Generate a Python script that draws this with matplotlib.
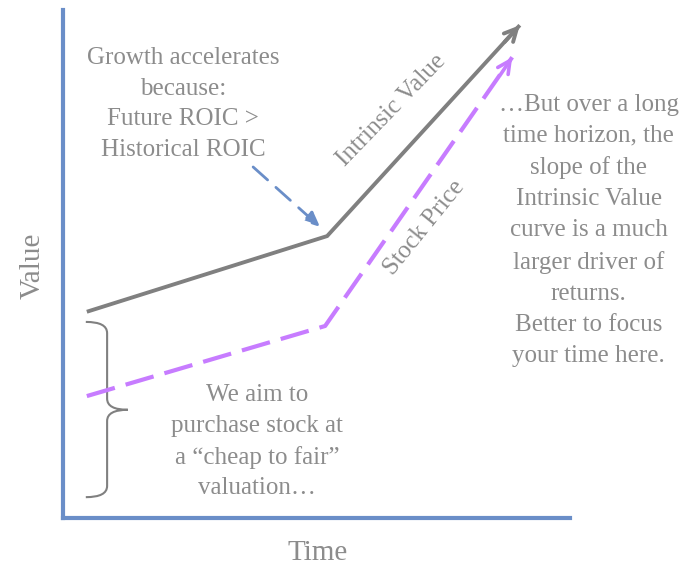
import matplotlib
matplotlib.use("Agg")
import matplotlib.pyplot as plt
from matplotlib.path import Path
from matplotlib.patches import PathPatch

# ---- data (conceptual units, 0-100 on each axis) ----
iv_time = [4.7, 52.1, 90.1]
iv_value = [40.6, 55.5, 97.0]
sp_time = [4.7, 51.7, 88.6]
sp_value = [24.0, 37.8, 90.7]
callout_time = [37.5, 50.7]
callout_value = [69.1, 57.3]
brace_time = [4.5, 8.7, 12.8]
brace_value = [38.6, 21.3, 4.1]

x_label = "Time"
y_label = "Value"
iv_label = "Intrinsic Value"
sp_label = "Stock Price"
growth_text = "Growth accelerates\nbecause:\nFuture ROIC >\nHistorical ROIC"
right_text = ("\u2026But over a long\ntime horizon, the\nslope of the\nIntrinsic Value\n"
              "curve is a much\nlarger driver of\nreturns.\nBetter to focus\nyour time here.")
bottom_text = "We aim to\npurchase stock at\na \u201ccheap to fair\u201d\nvaluation\u2026"

GRAY = "#808080"
PURPLE = "#c77cff"
BLUE = "#6a8ec8"
TXT = "#8c8c8c"
FONT = "Liberation Serif"
LS = 1.5

fig = plt.figure(figsize=(6.85, 5.66), dpi=100)
ax = fig.add_axes([63 / 685, 48 / 566, 507 / 685, 508 / 566])
ax.set_xlim(0, 100)
ax.set_ylim(0, 100)
for s in ["top", "right"]:
    ax.spines[s].set_visible(False)
for s in ["left", "bottom"]:
    ax.spines[s].set_color(BLUE)
    ax.spines[s].set_linewidth(3)
ax.set_xticks([])
ax.set_yticks([])
ax.patch.set_alpha(0)

# Intrinsic value line
ax.plot(iv_time, iv_value, color=GRAY, lw=2.8, solid_capstyle="butt",
        solid_joinstyle="miter", clip_on=False)
ax.annotate("", xy=(iv_time[-1], iv_value[-1]),
            xytext=(iv_time[-1] - 3, iv_value[-1] - 3.3),
            arrowprops=dict(arrowstyle="->,head_length=0.9,head_width=0.45",
                            color=GRAY, lw=2.8, shrinkA=0, shrinkB=0),
            annotation_clip=False)

# Stock price line (dashed)
ax.plot(sp_time, sp_value, color=PURPLE, lw=3, ls=(0, (7, 2.7)),
        dash_capstyle="butt", clip_on=False)
ax.annotate("", xy=(sp_time[-1], sp_value[-1]),
            xytext=(sp_time[-1] - 2.3, sp_value[-1] - 3.4),
            arrowprops=dict(arrowstyle="->,head_length=0.9,head_width=0.45",
                            color=PURPLE, lw=2.6, shrinkA=0, shrinkB=0),
            annotation_clip=False)

# Callout arrow (dashed blue)
ax.annotate("", xy=(callout_time[1], callout_value[1]),
            xytext=(callout_time[0], callout_value[0]),
            arrowprops=dict(arrowstyle="-|>,head_length=0.9,head_width=0.4",
                            color=BLUE, lw=2, ls=(0, (7, 4)),
                            shrinkA=0, shrinkB=0))

# Brace
xl, xm, xt = brace_time
yt, yc, yb = brace_value
r = 2.2
verts = [(xl, yt), (xm, yt), (xm, yt - r),
         (xm, yc + r),
         (xm, yc), (xt, yc),
         (xm, yc), (xm, yc - r),
         (xm, yb + r),
         (xm, yb), (xl, yb)]
codes = [Path.MOVETO, Path.CURVE3, Path.CURVE3,
         Path.LINETO,
         Path.CURVE3, Path.CURVE3,
         Path.CURVE3, Path.CURVE3,
         Path.LINETO,
         Path.CURVE3, Path.CURVE3]
ax.add_patch(PathPatch(Path(verts, codes), fill=False, edgecolor=GRAY, lw=1.5))

# Texts
ax.text(23.7, 81.5, growth_text, ha="center", va="center", ma="center",
        fontsize=18, color=TXT, family=FONT, linespacing=LS)
ax.text(103.7, 56.6, right_text, ha="center", va="center", ma="center",
        fontsize=18, color=TXT, family=FONT, linespacing=1.53, clip_on=False)
ax.text(38.3, 15.0, bottom_text, ha="center", va="center", ma="center",
        fontsize=18, color=TXT, family=FONT, linespacing=LS)
ax.text(64.7, 80.3, iv_label, ha="center", va="center", rotation=46,
        rotation_mode="anchor", fontsize=18, color=TXT, family=FONT)
ax.text(71.2, 57.1, sp_label, ha="center", va="center", rotation=51,
        rotation_mode="anchor", fontsize=18, color=TXT, family=FONT)

fig.text(33 / 685, 1 - 266 / 566, y_label, rotation=90, ha="center", va="center",
         fontsize=21, color=TXT, family=FONT)
fig.text(318 / 685, 1 - 553 / 566, x_label, ha="center", va="center",
         fontsize=21, color=TXT, family=FONT)

fig.savefig("out.png", dpi=100)
